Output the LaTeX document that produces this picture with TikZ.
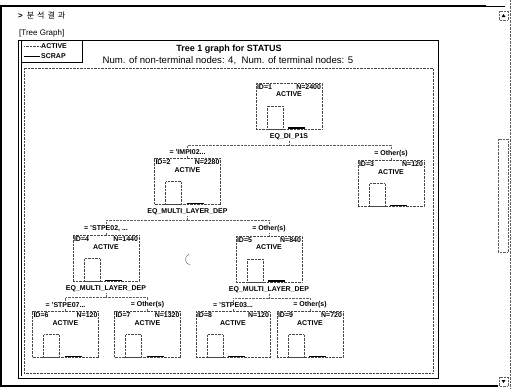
\documentclass[tikz,border=0pt]{standalone}
\usepackage{fontspec}
\setmainfont{Liberation Sans}
\newfontfamily\korfont{Noto Sans CJK KR}
\usepackage{tikz}
\usetikzlibrary{positioning}
\definecolor{boxgrau}{RGB}{70, 70, 70}
\definecolor{linegrau}{RGB}{95, 95, 95}
\tikzset{
    hdr/.style={font=\fontsize{7}{8}\selectfont\bfseries, inner sep=1pt},
    var/.style={font=\fontsize{7}{8}\selectfont\bfseries, inner sep=1pt},
    cond/.style={font=\fontsize{7}{8}\selectfont\bfseries, inner sep=1pt},
    legt/.style={font=\fontsize{7}{8}\selectfont\bfseries, inner sep=1pt},
    tnode/.style 2 args={draw=boxgrau, densely dotted, minimum width=66pt, minimum height=46pt, inner sep=0pt,
        label={[hdr, anchor=north west, yshift=-0.6pt]north west:ID=#1},
        label={[hdr, anchor=north east, yshift=-0.6pt]north east:N=#2},
        label={[hdr, anchor=north, yshift=-8pt]north:ACTIVE},
        path picture={
            \draw [boxgrau, densely dotted] ([xshift=11pt]path picture bounding box.south west) rectangle ++(16pt,23pt);
            \draw [black, solid, line width=1.2pt] ([xshift=32pt, yshift=1pt]path picture bounding box.south west) -- ++(17pt,0pt);
        }},
    conn/.style={-, draw=linegrau, densely dotted, thin},
}
\begin{document}
\begin{tikzpicture}[x=1pt, y=-1pt]
        \useasboundingbox [fill=white] (0,0) rectangle (511,388);

        % window frame
        \draw [black, line width=2pt] (0,6) -- (486,6);
        \draw [black, thin] (486,6) -- (505,6);
        \draw [black, line width=2.5pt] (1.2,6) -- (1.2,386);
        \draw [black, line width=1.8pt] (0,386) -- (498,386);
        \draw [linegrau, densely dotted] (510,0) -- (510,388);
        \draw [linegrau, densely dotted] (499,11) rectangle (508,20);
        \fill [black] (501.5,17) -- (505.5,17) -- (503.5,14) -- cycle;
        \draw [linegrau, densely dotted] (498,139) rectangle (508,252);
        \draw [linegrau, densely dotted] (499,377) rectangle (508,386);
        \fill [black] (501.5,380) -- (505.5,380) -- (503.5,383) -- cycle;

        \node [anchor=west, inner sep=0pt] (head) at (18,16) {\fontsize{8}{9}\selectfont\textbf{>}\hspace{4pt}\korfont 분\hspace{3pt}석\hspace{3pt}결\hspace{3pt}과};
        \node [anchor=west, inner sep=0pt, font=\fontsize{8}{9}\selectfont] (tab) at (19,33) {[Tree Graph]};

        % panel
        \draw [black, semithick] (18,40) rectangle (438,378);
        \draw [black, thin] (21.5,62) -- (21.5,376);
        \draw [boxgrau, densely dotted] (24,68) rectangle (433,373);

        % legend
        \draw [black, semithick] (21,40) rectangle (82,62);
        \node [legt, anchor=west] (lact) at (40,46.5) {ACTIVE};
        \node [legt, anchor=west] (lscr) at (40,56) {SCRAP};
        \draw [boxgrau, densely dotted] (lact.west) -- ++(-16,0);
        \draw [black] (lscr.west) -- ++(-16,0);

        \node [font=\fontsize{9}{10}\selectfont\bfseries] (ttl) at (229,49) {Tree 1 graph for STATUS};
        \node [font=\fontsize{9.6}{10}\selectfont] (sub) at (228,60.5) {Num. of non-terminal nodes: 4,\ \ Num. of terminal nodes: 5};

        % tree
        \node [tnode={1}{2400}] (r) at (289,106) {};
        \node [tnode={2}{2280}] (ch1) at (187.5,181.5) {};
        \node [tnode={3}{120}] (ch2) at (391,183.5) {};
        \node [tnode={4}{1440}] (ch1a) at (106,258.5) {};
        \node [tnode={5}{840}] (ch1b) at (269,259) {};
        \node [tnode={6}{120}] (ch1a1) at (65.5,334.5) {};
        \node [tnode={7}{1320}] (ch1a2) at (147.5,334.5) {};
        \node [tnode={8}{120}, minimum width=74pt] (ch1b1) at (233,334.5) {};
        \node [tnode={9}{720}] (ch1b2) at (310,334.5) {};

        \node [var, below=3pt of r] (vr) {EQ\_DI\_P1S};
        \node [var, below=3pt of ch1] (v1) {EQ\_MULTI\_LAYER\_DEP};
        \node [var, below=3pt of ch1a] (v1a) {EQ\_MULTI\_LAYER\_DEP};
        \node [var, below=3pt of ch1b] (v1b) {EQ\_MULTI\_LAYER\_DEP};

        \node [cond, above=2.5pt of ch1] (c1) {= 'IMPI02...};
        \node [cond, above=2.5pt of ch2] (c2) {= Other(s)};
        \node [cond, above=2.5pt of ch1a] (c1a) {= 'STPE02, ...};
        \node [cond, above=2.5pt of ch1b] (c1b) {= Other(s)};
        \node [cond, above=2.5pt of ch1a1] (c1a1) {= 'STPE07...};
        \node [cond, above=2.5pt of ch1a2] (c1a2) {= Other(s)};
        \node [cond, above=2.5pt of ch1b1] (c1b1) {= 'STPE03...};
        \node [cond, above=2.5pt of ch1b2] (c1b2) {= Other(s)};

        \draw [conn] (vr.south) -- ++(0,4) -| (c1.north);
        \draw [conn] (vr.south) -- ++(0,4) -| (c2.north);
        \draw [conn] (v1.south) -- ++(0,4) -| (c1a.north);
        \draw [conn] (v1.south) -- ++(0,4) -| (c1b.north);
        \draw [conn] (v1a.south) -- ++(0,4) -| (c1a1.north);
        \draw [conn] (v1a.south) -- ++(0,4) -| (c1a2.north);
        \draw [conn] (v1b.south) -- ++(0,4) -| (c1b1.north);
        \draw [conn] (v1b.south) -- ++(0,4) -| (c1b2.north);

        \draw [conn] (c1) -- (ch1);
        \draw [conn] (c2) -- (ch2);
        \draw [conn] (c1a) -- (ch1a);
        \draw [conn] (c1b) -- (ch1b);
        \draw [conn] (c1a1) -- (ch1a1);
        \draw [conn] (c1a2) -- (ch1a2);
        \draw [conn] (c1b1) -- (ch1b1);
        \draw [conn] (c1b2) -- (ch1b2);

        % cursor
        \draw [linegrau] (189,254) .. controls (184,257) and (184,263) .. (190,265);
    \end{tikzpicture}
\end{document}
